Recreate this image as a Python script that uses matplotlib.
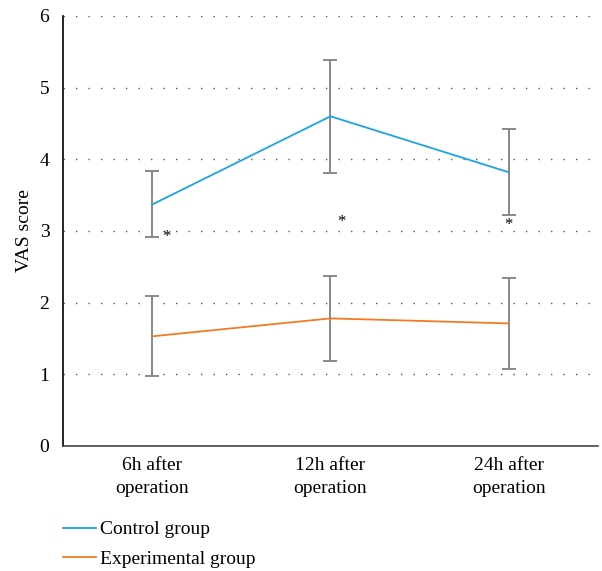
import matplotlib
matplotlib.use("Agg")
import matplotlib.pyplot as plt

# values
times = ["6h after\noperation", "12h after\noperation", "24h after\noperation"]
control_mean = [3.37, 4.60, 3.82]
control_err = [0.46, 0.79, 0.60]
exp_mean = [1.53, 1.78, 1.71]
exp_err = [0.56, 0.59, 0.63]
# significance marks (x offset in category units, y in VAS units)
star_x = [0.08, 0.06, 0.0]
star_y = [2.92, 3.13, 3.09]

plt.rcParams["font.family"] = ["Liberation Serif", "DejaVu Serif"]
plt.rcParams["font.size"] = 14

fig = plt.figure(figsize=(6.02, 5.71), dpi=100)
ax = fig.add_axes([0.105, 0.219, 0.888, 0.753])

x = list(range(len(times)))
ax.errorbar(x, control_mean, yerr=control_err, color="#1ca3e3", lw=1.3,
            ecolor="#808080", elinewidth=1.3, capsize=5, capthick=1.3,
            label="Control group", zorder=3)
ax.errorbar(x, exp_mean, yerr=exp_err, color="#f37a24", lw=1.3,
            ecolor="#808080", elinewidth=1.3, capsize=5, capthick=1.3,
            label="Experimental group", zorder=3)
for i, (dx, sy) in enumerate(zip(star_x, star_y)):
    ax.text(i + dx, sy, "*", ha="center", va="center", fontsize=12)

ax.set_xlim(-0.5, 2.5)
ax.set_ylim(0, 6)
ax.set_yticks(range(0, 7))
ax.set_xticks(x)
ax.set_xticklabels(times, linespacing=1.45)
ax.tick_params(length=0)
ax.tick_params(axis="x", pad=8)
ax.tick_params(axis="y", pad=10)
ax.set_ylabel("VAS score", labelpad=5)

for yv in range(1, 7):
    ax.axhline(yv, color="#555555", lw=1, ls=(0, (1, 8)), zorder=1)

for s in ("top", "right"):
    ax.spines[s].set_visible(False)
ax.spines["left"].set_color("black")
ax.spines["bottom"].set_color("#444444")
ax.spines["left"].set_linewidth(1.2)
ax.spines["bottom"].set_linewidth(1.2)

handles, labels = ax.get_legend_handles_labels()
handles = [h[0] for h in handles]
fig.legend(handles, labels, loc="upper left", bbox_to_anchor=(0.104, 0.088),
           frameon=False, handlelength=1.7, handletextpad=0.2,
           labelspacing=0.62, borderpad=0, borderaxespad=0)

fig.savefig("out.png", dpi=100)
